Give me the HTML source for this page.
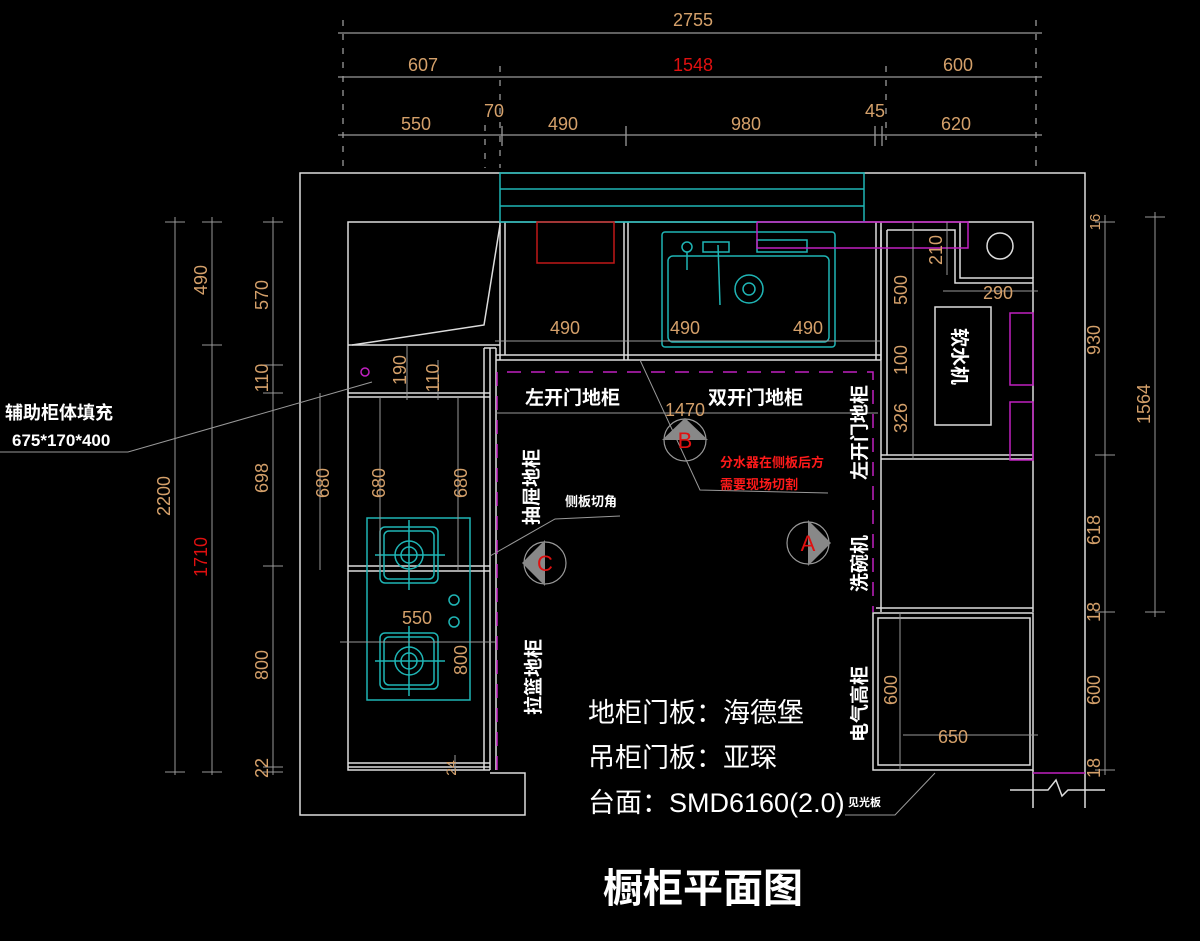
<!DOCTYPE html>
<html><head><meta charset="utf-8"><style>
html,body{margin:0;padding:0;background:#000;}
svg{display:block}
text{font-family:"Liberation Sans","Noto Sans CJK SC",sans-serif;}
.d{fill:#d4a06a;font-size:18px;text-anchor:middle}
.w{fill:#fff;font-weight:bold}
</style></head><body>
<svg width="1200" height="941" viewBox="0 0 1200 941" xmlns="http://www.w3.org/2000/svg">
<rect width="1200" height="941" fill="#000"/>
<!-- top dims -->
<g stroke="#999" stroke-width="1.3" fill="none">
<line x1="338" y1="33" x2="1042" y2="33"/>
<line x1="338" y1="77" x2="1042" y2="77"/>
<line x1="338" y1="135" x2="1042" y2="135"/>
<g stroke-dasharray="6,8">
<line x1="343" y1="20" x2="343" y2="168"/><line x1="1036" y1="20" x2="1036" y2="168"/>
<line x1="500" y1="66" x2="500" y2="168"/><line x1="886" y1="66" x2="886" y2="140"/>
<line x1="485" y1="125" x2="485" y2="168"/>
</g>
<line x1="626" y1="126" x2="626" y2="146"/><line x1="875" y1="126" x2="875" y2="146"/><line x1="882" y1="126" x2="882" y2="146"/><line x1="502" y1="126" x2="502" y2="146"/>
</g>
<g class="d"><text x="693" y="26">2755</text><text x="423" y="71">607</text><text x="693" y="71" fill="#e01010">1548</text><text x="958" y="71">600</text>
<text x="416" y="130">550</text><text x="494" y="117">70</text><text x="563" y="130">490</text><text x="746" y="130">980</text><text x="875" y="117">45</text><text x="956" y="130">620</text></g>

<!-- walls -->
<g stroke="#ddd" stroke-width="1.5" fill="none">
<polyline points="1085,808 1085,173 300,173 300,815 525,815 525,773 490,773"/>
<polyline points="1010,790 1048,790 1056,780 1062,796 1068,790 1105,790"/>
<line x1="1033" y1="770" x2="1033" y2="808"/>
<!-- left corner cabinet -->
<polyline points="500,222 348,222 348,770 490,770"/>
<polyline points="500,225 484,325 352,345"/>
<line x1="348" y1="345" x2="500" y2="345"/>
<line x1="348" y1="393" x2="490" y2="393"/><line x1="348" y1="397" x2="490" y2="397"/>
<line x1="348" y1="566" x2="490" y2="566"/><line x1="348" y1="571" x2="490" y2="571"/>
<line x1="348" y1="763" x2="490" y2="763"/><line x1="348" y1="767" x2="490" y2="767"/>
<line x1="484" y1="348" x2="484" y2="770"/><line x1="490" y1="348" x2="490" y2="770"/>
<line x1="484" y1="348" x2="496" y2="348"/><line x1="496" y1="348" x2="496" y2="770"/>
<!-- back cabinets -->
<line x1="500" y1="222" x2="500" y2="360"/><line x1="505" y1="222" x2="505" y2="355"/>
<line x1="624" y1="222" x2="624" y2="360"/><line x1="628" y1="222" x2="628" y2="360"/>
<line x1="876" y1="222" x2="876" y2="360"/><line x1="881" y1="222" x2="881" y2="360"/>
<line x1="496" y1="355" x2="881" y2="355"/><line x1="496" y1="360" x2="881" y2="360"/>
<line x1="500" y1="222" x2="876" y2="222"/>
<!-- right column -->
<polyline points="876,222 960,222 960,278 1033,278 1033,612"/>
<polyline points="960,222 1033,222 1033,278"/>
<line x1="881" y1="230" x2="881" y2="612"/><line x1="887" y1="230" x2="887" y2="455"/>
<polyline points="887,230 955,230 955,283 1033,283"/>
<line x1="881" y1="455" x2="1033" y2="455"/><line x1="881" y1="459" x2="1033" y2="459"/>
<circle cx="1000" cy="246" r="13"/>
<rect x="935" y="307" width="56" height="118"/>
<rect x="873" y="613" width="160" height="157"/><rect x="878" y="618" width="152" height="147"/>
<line x1="876" y1="608" x2="1033" y2="608"/>
</g>
<!-- window -->
<g stroke="#1fb5b5" stroke-width="1.5" fill="none">
<rect x="500" y="173" width="364" height="49"/><line x1="500" y1="189" x2="864" y2="189"/><line x1="500" y1="206" x2="864" y2="206"/>
<!-- sink -->
<rect x="662" y="232" width="173" height="115" rx="3"/>
<rect x="668" y="256" width="161" height="86" rx="5"/>
<circle cx="749" cy="289" r="14"/><circle cx="749" cy="289" r="6"/>
<circle cx="687" cy="247" r="5"/><line x1="687" y1="252" x2="687" y2="270"/>
<rect x="703" y="242" width="26" height="10"/><line x1="718" y1="245" x2="720" y2="305"/>
<rect x="757" y="240" width="50" height="12"/>
<!-- stove -->
<rect x="367" y="518" width="103" height="182"/>
<rect x="380" y="527" width="58" height="56" rx="5"/><rect x="384" y="531" width="50" height="48" rx="5"/>
<circle cx="409" cy="555" r="14"/><circle cx="409" cy="555" r="8"/>
<line x1="375" y1="555" x2="445" y2="555"/><line x1="409" y1="520" x2="409" y2="590"/>
<rect x="380" y="633" width="58" height="56" rx="5"/><rect x="384" y="637" width="50" height="48" rx="5"/>
<circle cx="409" cy="661" r="14"/><circle cx="409" cy="661" r="8"/>
<line x1="375" y1="661" x2="445" y2="661"/><line x1="409" y1="626" x2="409" y2="696"/>
<circle cx="454" cy="600" r="5"/><circle cx="454" cy="622" r="5"/>
</g>
<rect x="537" y="222" width="77" height="41" fill="none" stroke="#c01818" stroke-width="1.5"/>
<!-- magenta -->
<g stroke="#c020c0" stroke-width="1.5" fill="none">
<polyline points="757,222 968,222 968,248 757,248 757,222"/>
<rect x="1010" y="313" width="23" height="72"/><rect x="1010" y="402" width="23" height="58"/>
<line x1="1033" y1="773" x2="1085" y2="773"/>
<circle cx="365" cy="372" r="4"/>
<g stroke-dasharray="14,10"><polyline points="497,770 497,372 873,372 873,612"/></g>
</g>
<!-- internal dims -->
<g stroke="#999" stroke-width="1" fill="none">
<line x1="495" y1="341" x2="880" y2="341"/>
<line x1="495" y1="413" x2="878" y2="413"/>
<line x1="340" y1="642" x2="495" y2="642"/>
<line x1="903" y1="735" x2="1038" y2="735"/>
<line x1="320" y1="393" x2="320" y2="570"/><line x1="380" y1="397" x2="380" y2="570"/><line x1="458" y1="397" x2="458" y2="570"/>
<line x1="407" y1="345" x2="407" y2="400"/><line x1="438" y1="360" x2="438" y2="400"/>
<line x1="913" y1="222" x2="913" y2="460"/><line x1="947" y1="222" x2="947" y2="275"/><line x1="943" y1="291" x2="1038" y2="291"/>
<line x1="900" y1="612" x2="900" y2="770"/><line x1="455" y1="755" x2="455" y2="775"/>
<!-- left dims -->
<line x1="175" y1="217" x2="175" y2="775"/><line x1="212" y1="217" x2="212" y2="775"/><line x1="273" y1="217" x2="273" y2="775"/>
<line x1="165" y1="222" x2="185" y2="222"/><line x1="202" y1="222" x2="222" y2="222"/><line x1="263" y1="222" x2="283" y2="222"/>
<line x1="202" y1="345" x2="222" y2="345"/><line x1="263" y1="365" x2="283" y2="365"/><line x1="263" y1="393" x2="283" y2="393"/><line x1="263" y1="566" x2="283" y2="566"/><line x1="263" y1="767" x2="283" y2="767"/>
<line x1="165" y1="772" x2="185" y2="772"/><line x1="202" y1="772" x2="222" y2="772"/><line x1="263" y1="772" x2="283" y2="772"/>
<!-- right dims -->
<line x1="1105" y1="215" x2="1105" y2="775"/><line x1="1155" y1="212" x2="1155" y2="617"/>
<line x1="1095" y1="222" x2="1115" y2="222"/><line x1="1095" y1="455" x2="1115" y2="455"/><line x1="1095" y1="612" x2="1115" y2="612"/><line x1="1095" y1="770" x2="1115" y2="770"/>
<line x1="1145" y1="217" x2="1165" y2="217"/><line x1="1145" y1="612" x2="1165" y2="612"/>
<!-- leaders -->
<polyline points="0,452 128,452 372,382"/>
<polyline points="640,360 700,490 828,493"/>
<polyline points="490,556 555,519 620,516"/>
<polyline points="935,773 895,815 845,815"/>
</g>
<!-- dim texts -->
<g class="d">
<text x="565" y="334">490</text><text x="685" y="334">490</text><text x="808" y="334">490</text>
<text x="685" y="416">1470</text><text x="417" y="624">550</text><text x="998" y="299">290</text><text x="953" y="743">650</text>
<g transform="translate(207,280) rotate(-90)"><text>490</text></g>
<g transform="translate(268,295) rotate(-90)"><text>570</text></g>
<g transform="translate(268,378) rotate(-90)"><text>110</text></g>
<g transform="translate(268,478) rotate(-90)"><text>698</text></g>
<g transform="translate(268,665) rotate(-90)"><text>800</text></g>
<g transform="translate(268,768) rotate(-90)"><text>22</text></g>
<g transform="translate(170,496) rotate(-90)"><text>2200</text></g>
<g transform="translate(207,557) rotate(-90)"><text fill="#e01010">1710</text></g>
<g transform="translate(329,483) rotate(-90)"><text>680</text></g>
<g transform="translate(385,483) rotate(-90)"><text>680</text></g>
<g transform="translate(467,483) rotate(-90)"><text>680</text></g>
<g transform="translate(467,660) rotate(-90)"><text>800</text></g>
<g transform="translate(406,370) rotate(-90)"><text>190</text></g>
<g transform="translate(439,378) rotate(-90)"><text>110</text></g>
<g transform="translate(456,768) rotate(-90)"><text font-size="14">24</text></g>
<g transform="translate(942,250) rotate(-90)"><text>210</text></g>
<g transform="translate(907,290) rotate(-90)"><text>500</text></g>
<g transform="translate(907,360) rotate(-90)"><text>100</text></g>
<g transform="translate(907,418) rotate(-90)"><text>326</text></g>
<g transform="translate(897,690) rotate(-90)"><text>600</text></g>
<g transform="translate(1100,222) rotate(-90)"><text font-size="15">16</text></g>
<g transform="translate(1100,340) rotate(-90)"><text>930</text></g>
<g transform="translate(1100,530) rotate(-90)"><text>618</text></g>
<g transform="translate(1100,612) rotate(-90)"><text>18</text></g>
<g transform="translate(1100,690) rotate(-90)"><text>600</text></g>
<g transform="translate(1100,768) rotate(-90)"><text>18</text></g>
<g transform="translate(1150,404) rotate(-90)"><text>1564</text></g>
</g>
<!-- section markers -->
<g stroke="#999" stroke-width="1.2" fill="none">
<circle cx="685" cy="440" r="21"/><circle cx="545" cy="563" r="21"/><circle cx="808" cy="543" r="21"/>
</g>
<g fill="#888">
<polygon points="662,440 685,418 685,440"/><polygon points="708,440 685,418 685,440"/>
<polygon points="522,563 545,540 545,563"/><polygon points="522,563 545,586 545,563"/>
<polygon points="831,543 808,520 808,543"/><polygon points="831,543 808,566 808,543"/>
</g>
<g fill="#e01010" font-size="22" text-anchor="middle" font-family="Liberation Serif,serif">
<text x="685" y="448" font-family="Liberation Serif,serif">B</text><text x="545" y="571" font-family="Liberation Serif,serif">C</text><text x="808" y="551" font-family="Liberation Serif,serif">A</text>
</g>
<!-- labels -->
<g class="w" font-size="19">
<text x="525" y="404">左开门地柜</text><text x="708" y="404">双开门地柜</text>
<g transform="translate(866,480) rotate(-90)"><text>左开门地柜</text></g>
<g transform="translate(866,592) rotate(-90)"><text>洗碗机</text></g>
<g transform="translate(866,742) rotate(-90)"><text>电气高柜</text></g>
<g transform="translate(538,525) rotate(-90)"><text>抽屉地柜</text></g>
<g transform="translate(540,715) rotate(-90)"><text>拉篮地柜</text></g>
<g transform="translate(953,328) rotate(90)"><text>软水机</text></g>
</g>
<g class="w" font-size="13"><text x="565" y="506">侧板切角</text><text x="848" y="806" font-size="11">见光板</text></g>
<g fill="#ff1a1a" font-weight="bold" font-size="13"><text x="720" y="467">分水器在侧板后方</text><text x="720" y="489">需要现场切割</text></g>
<g fill="#fff" font-size="18" font-weight="bold"><text x="5" y="419">辅助柜体填充</text><text x="12" y="446" font-size="17">675*170*400</text></g>
<g fill="#fff" font-size="27"><text x="588" y="722">地柜门板：海德堡</text><text x="588" y="767">吊柜门板：亚琛</text><text x="588" y="812">台面：SMD6160(2.0)</text></g>
<text x="703" y="902" fill="#fff" font-size="40" font-weight="bold" text-anchor="middle">橱柜平面图</text>
</svg>
</body></html>
